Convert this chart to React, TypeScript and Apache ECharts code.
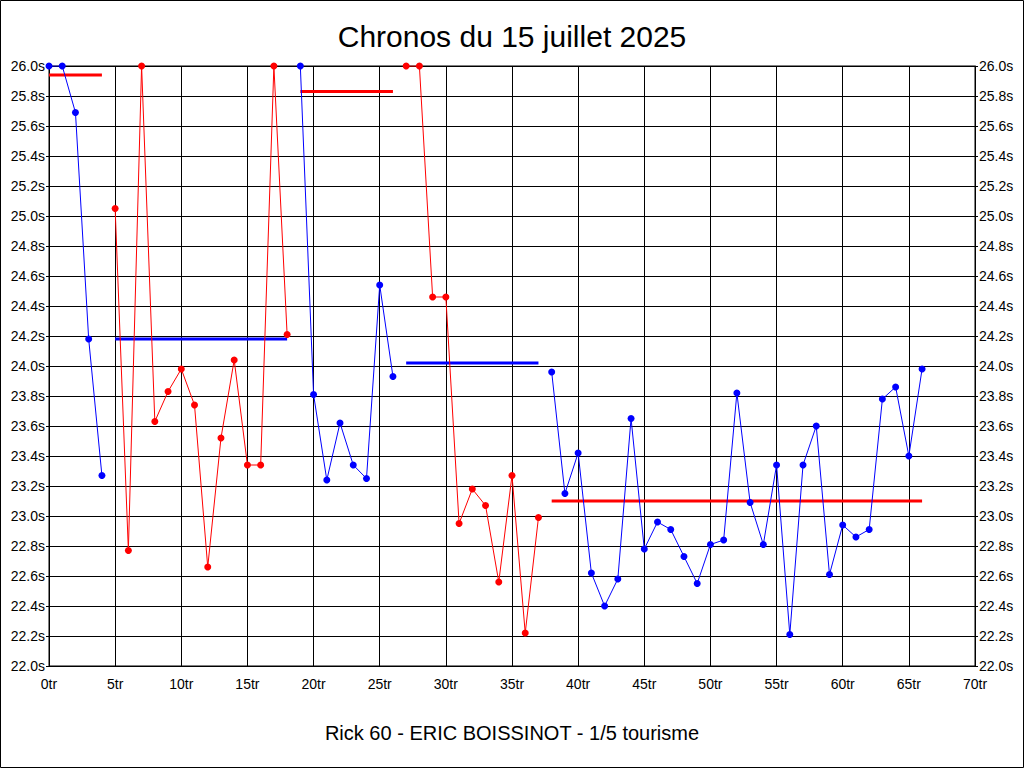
import React, { useEffect, useRef } from "react";
import * as echarts from "echarts";

const titleText = "Chronos du 15 juillet 2025";
const subtitleText = "Rick 60 - ERIC BOISSINOT - 1/5 tourisme";

// lap times (s), lap index = position
const lapTimes = [
  26.0, 26.0, 25.69, 24.18, 23.27,
  25.05, 22.77, 26.0, 23.63, 23.83, 23.98, 23.74, 22.66, 23.52, 24.04, 23.34, 23.34, 26.0, 24.21,
  26.0, 23.81, 23.24, 23.62, 23.34, 23.25, 24.54, 23.93,
  26.0, 26.0, 24.46, 24.46, 22.95, 23.18, 23.07, 22.56, 23.27, 22.22, 22.99,
  23.96, 23.15, 23.42, 22.62, 22.40, 22.58, 23.65, 22.78, 22.96, 22.91, 22.73, 22.55,
  22.81, 22.84, 23.82, 23.09, 22.81, 23.34, 22.21, 23.34, 23.60, 22.61, 22.94, 22.86,
  22.91, 23.78, 23.86, 23.40, 23.98,
];

// segments: first lap, last lap, colour
const segStart = [0, 5, 19, 27, 38];
const segEnd = [4, 18, 26, 37, 66];
const segColor = ["#0000ff", "#ff0000", "#0000ff", "#ff0000", "#0000ff"];

// reference (average) lines
const avgStart = [0, 5, 19, 27, 38];
const avgEnd = [4, 18, 26, 37, 66];
const avgValue = [25.94, 24.18, 25.83, 24.02, 23.1];
const avgColor = ["#ff0000", "#0000ff", "#ff0000", "#0000ff", "#ff0000"];

const FONT = "'Liberation Sans', Arial, sans-serif";

export default function App() {
  const ref = useRef<HTMLDivElement>(null);
  useEffect(() => {
    if (!ref.current) return;
    const chart = echarts.init(ref.current, null, { renderer: "svg" });
    const series: any[] = [];
    segStart.forEach((s, i) => {
      const data: number[][] = [];
      for (let lap = s; lap <= segEnd[i]; lap++) data.push([lap, lapTimes[lap]]);
      series.push({
        type: "line",
        data,
        symbol: "circle",
        symbolSize: 7,
        showSymbol: true,
        lineStyle: { color: segColor[i], width: 1 },
        itemStyle: { color: segColor[i] },
        z: 3,
      });
    });
    avgStart.forEach((s, i) => {
      series.push({
        type: "line",
        data: [
          [s, avgValue[i]],
          [avgEnd[i], avgValue[i]],
        ],
        symbol: "none",
        lineStyle: { color: avgColor[i], width: 3 },
        z: 2,
      });
    });
    const yLabel = {
      color: "#000",
      fontFamily: FONT,
      fontSize: 14,
      formatter: (v: number) => v.toFixed(1) + "s",
    };
    chart.setOption({
      animation: false,
      backgroundColor: "#fff",
      title: [
        {
          text: titleText,
          left: "center",
          top: 16,
          textStyle: { fontFamily: FONT, fontSize: 30, fontWeight: "normal", color: "#000" },
        },
        {
          text: subtitleText,
          left: "center",
          top: 718,
          textStyle: { fontFamily: FONT, fontSize: 20, fontWeight: "normal", color: "#000" },
        },
      ],
      grid: { left: 49, right: 49, top: 66, bottom: 102, show: true, borderColor: "#000", borderWidth: 1 },
      xAxis: {
        type: "value",
        min: 0,
        max: 70,
        interval: 5,
        axisLine: { show: true, lineStyle: { color: "#000" } },
        axisTick: { show: false },
        splitLine: { show: true, lineStyle: { color: "#000", width: 1 } },
        axisLabel: {
          color: "#000",
          fontFamily: FONT,
          fontSize: 14,
          margin: 11,
          formatter: (v: number) => v + "tr",
        },
      },
      yAxis: [
        {
          type: "value",
          min: 22,
          max: 26,
          interval: 0.2,
          position: "left",
          axisLine: { show: true, lineStyle: { color: "#000" } },
          axisTick: { show: true, length: 3, lineStyle: { color: "#000" } },
          splitLine: { show: true, lineStyle: { color: "#000", width: 1 } },
          axisLabel: { ...yLabel, margin: 4 },
        },
        {
          type: "value",
          min: 22,
          max: 26,
          interval: 0.2,
          position: "right",
          axisLine: { show: true, lineStyle: { color: "#000" } },
          axisTick: { show: true, length: 3, lineStyle: { color: "#000" } },
          splitLine: { show: false },
          axisLabel: { ...yLabel, margin: 4 },
        },
      ],
      graphic: [
        {
          type: "rect",
          shape: { x: 0.5, y: 0.5, width: 1023, height: 767 },
          style: { fill: "none", stroke: "#000", lineWidth: 1 },
          silent: true,
        },
      ],
      series,
    });
    return () => chart.dispose();
  }, []);
  return (
    <div
      ref={ref}
      style={{ position: "fixed", left: 0, top: 0, width: 1024, height: 768 }}
    />
  );
}
